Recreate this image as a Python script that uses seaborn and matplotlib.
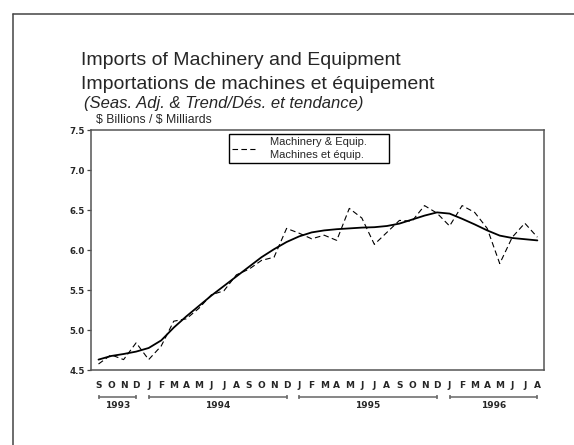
import numpy as np
import pandas as pd
import matplotlib
matplotlib.use("Agg")
import matplotlib.pyplot as plt
import matplotlib.transforms as mtransforms
from matplotlib.lines import Line2D
import seaborn as sns

# ---------------- data ----------------
month_labels = ["S", "O", "N", "D",
                "J", "F", "M", "A", "M", "J", "J", "A", "S", "O", "N", "D",
                "J", "F", "M", "A", "M", "J", "J", "A", "S", "O", "N", "D",
                "J", "F", "M", "A", "M", "J", "J", "A"]
year_labels = ["1993", "1994", "1995", "1996"]
months_per_year = [4, 12, 12, 8]

seas_adj = [4.575, 4.69, 4.63, 4.84, 4.63, 4.80, 5.11, 5.14, 5.27, 5.44,
            5.49, 5.69, 5.76, 5.87, 5.91, 6.27, 6.21, 6.14, 6.185, 6.12,
            6.52, 6.40, 6.07, 6.22, 6.37, 6.36, 6.555, 6.46, 6.30, 6.555,
            6.47, 6.27, 5.83, 6.16, 6.335, 6.16]
trend = [4.63, 4.675, 4.70, 4.73, 4.775, 4.87, 5.03, 5.17, 5.30, 5.43,
         5.55, 5.67, 5.79, 5.91, 6.01, 6.10, 6.17, 6.22, 6.245, 6.26,
         6.27, 6.28, 6.285, 6.30, 6.33, 6.38, 6.43, 6.47, 6.455, 6.39,
         6.32, 6.245, 6.18, 6.15, 6.135, 6.12]

y_ticks = [4.5, 5.0, 5.5, 6.0, 6.5, 7.0, 7.5]

title_en = "Imports of Machinery and Equipment"
title_fr = "Importations de machines et équipement"
subtitle = "(Seas. Adj. & Trend/Dés. et tendance)"
unit_label = "$ Billions / $ Milliards"
legend_label = "Machinery & Equip.\nMachines et équip."

# ---------------- figure ----------------
sns.set_style("white")
plt.rcParams["font.family"] = ["Liberation Sans", "DejaVu Sans"]

W, H = 574, 445
fig = plt.figure(figsize=(W / 100, H / 100), dpi=100)
fig.patch.set_facecolor("white")

ax_l, ax_r, ax_t, ax_b = 91, 544, 130, 370
ax = fig.add_axes([ax_l / W, 1 - ax_b / H, (ax_r - ax_l) / W, (ax_b - ax_t) / H])

df = pd.DataFrame({"month": np.arange(len(seas_adj)),
                   "seas": seas_adj, "trend": trend})

sns.lineplot(data=df, x="month", y="seas", ax=ax, color="black", linewidth=0.8)
sns.lineplot(data=df, x="month", y="trend", ax=ax, color="black", linewidth=1.3)
ax.lines[0].set_linestyle((0, (5, 3)))

n = len(month_labels)
ax.set_xlim(-0.6, n - 1 + 0.53)
ax.set_ylim(4.5, 7.5)
ax.set_xlabel("")
ax.set_ylabel("")

ax.set_yticks(y_ticks)
ax.set_yticklabels([f"{v:.1f}" for v in y_ticks], fontfamily="DejaVu Sans",
                   fontweight="bold", fontsize=6.2)
ax.tick_params(axis="y", direction="out", length=3, width=0.9, color="#444444",
               pad=1.5, left=True)
ax.set_xticks([])

for sp in ax.spines.values():
    sp.set_visible(True)
    sp.set_color("#555555")
    sp.set_linewidth(1.1)

# month letters
blend = mtransforms.blended_transform_factory(ax.transData, ax.transAxes)
y_month = (ax_b - 385.7) / (ax_b - ax_t)
for i, m in enumerate(month_labels):
    ax.text(i, y_month, m, transform=blend, ha="center", va="center",
            fontfamily="DejaVu Sans", fontweight="bold", fontsize=6.5)

# year brackets
y_line = (ax_b - 396.7) / (ax_b - ax_t)
y_year = (ax_b - 405.5) / (ax_b - ax_t)
start = 0
for yl, cnt in zip(year_labels, months_per_year):
    end = start + cnt - 1
    ax.plot([start, end], [y_line, y_line], transform=blend, clip_on=False,
            color="#666666", linewidth=1.1, marker="|", markersize=3.5,
            markeredgewidth=1.1)
    ax.text((start + end) / 2, y_year, yl, transform=blend, ha="center",
            va="center", fontfamily="DejaVu Sans", fontweight="bold",
            fontsize=6.5)
    start += cnt

# legend
leg_w = 160 / (ax_r - ax_l)
leg_top = (ax_b - 134) / (ax_b - ax_t)
leg = ax.legend(handles=[ax.lines[0]], labels=[legend_label],
                loc="upper left",
                bbox_to_anchor=(0.3046, leg_top - 0.2, leg_w, 0.2),
                mode="expand", frameon=True, fancybox=False,
                edgecolor="black", framealpha=1, fontsize=8,
                handlelength=2.0, handletextpad=1.4, borderpad=0.3,
                labelspacing=0.3, borderaxespad=0)
leg.get_frame().set_linewidth(1.0)
for t in leg.get_texts():
    t.set_linespacing(1.35)

# titles
fig.text(81 / W, 1 - 60.5 / H, title_en, fontsize=14, ha="left", va="center")
fig.text(81 / W, 1 - 84.5 / H, title_fr, fontsize=14, ha="left", va="center")
fig.text(83.5 / W, 1 - 103.5 / H, subtitle, fontsize=12, style="italic",
         ha="left", va="center")
fig.text(96 / W, 1 - 119.5 / H, unit_label, fontsize=8.8, ha="left",
         va="center", parse_math=False)

# outer frame (left and top edges visible)
fig.add_artist(Line2D([13 / W, 13 / W], [0, 1 - 14 / H],
                      transform=fig.transFigure, color="#444444", lw=1.1))
fig.add_artist(Line2D([13 / W, 1], [1 - 14 / H, 1 - 14 / H],
                      transform=fig.transFigure, color="#444444", lw=1.1))

fig.savefig("out.png", dpi=100)
